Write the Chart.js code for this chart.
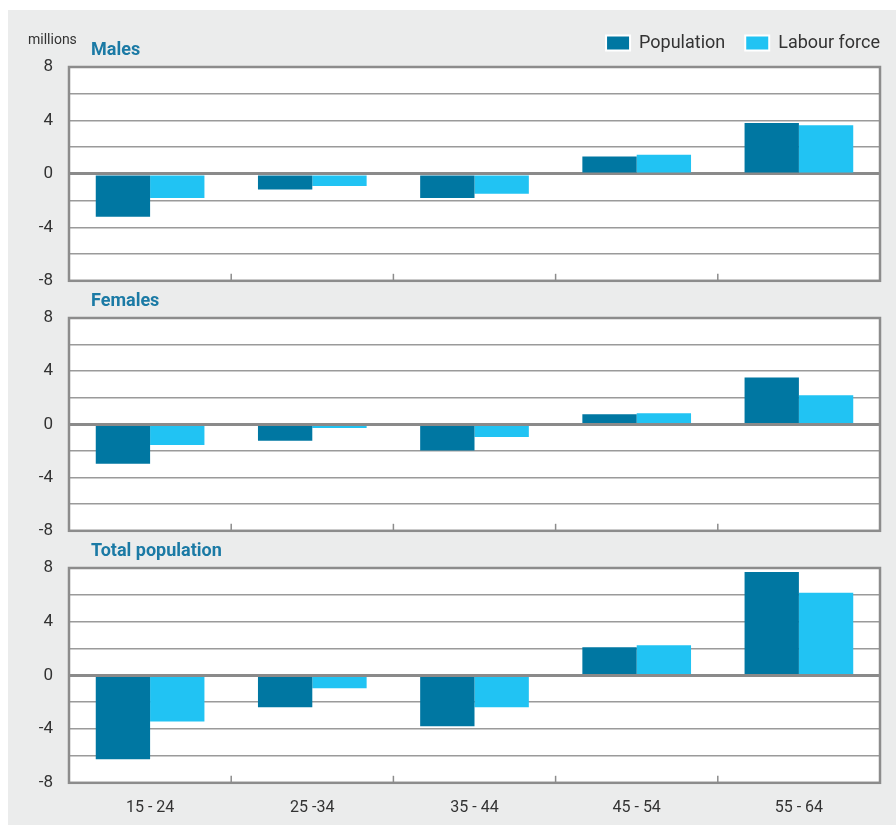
<!DOCTYPE html>
<html>
<head>
<meta charset="utf-8">
<title>Population and labour force change by age group</title>
<script src="https://cdn.jsdelivr.net/npm/chart.js@4.4.1/dist/chart.umd.min.js"></script>
<style>
    body { margin: 0; width: 896px; height: 825px; position: relative; overflow: hidden; background: #ffffff; }
    #bg { position: absolute; left: 8px; top: 10px; right: 0; bottom: 0; background: #ebecec; }
    .panel { position: absolute; left: 0; width: 896px; }
    .panel canvas { display: block; }
    #p1 { top: 0; height: 307px; }
    #p2 { top: 290px; height: 267px; }
    #p3 { top: 540px; height: 301px; }
</style>
</head>
<body>
<div id="bg"></div>
<div class="panel" id="p1"><canvas id="males-canvas"></canvas></div>
<div class="panel" id="p2"><canvas id="females-canvas"></canvas></div>
<div class="panel" id="p3"><canvas id="total-canvas"></canvas></div>
<script>
var ageGroups = ['15 - 24', '25 -34', '35 - 44', '45 - 54', '55 - 64'];

var malesPopulation = [-3.2, -1.17, -1.8, 1.3, 3.8];
var malesLabour = [-1.8, -0.9, -1.48, 1.44, 3.65];

var femalesPopulation = [-2.96, -1.22, -1.96, 0.77, 3.53];
var femalesLabour = [-1.55, -0.27, -0.94, 0.84, 2.19];

var totalPopulation = [-6.25, -2.37, -3.78, 2.1, 7.7];
var totalLabour = [-3.43, -0.95, -2.37, 2.25, 6.15];

var yMin = -8, yMax = 8, yStep = 2, yLabelStep = 4;

var popColor = '#0077a2';
var labourColor = '#21c3f3';
var fontFamily = "'Roboto', sans-serif";

// white plot area, grey frame, small category ticks, panel heading
var panelPlugin = {
    id: 'panelFrame',
    afterLayout: function(chart) {
        // legend sits a little higher and flush with the plot's right edge
        var lg = chart.legend;
        if (lg && chart.options.plugins.legend.display) {
            var pad = chart.options.plugins.legend.labels.padding;
            lg.left += pad; lg.right += pad;
            lg.top -= 5; lg.bottom -= 5;
        }
    },
    beforeDraw: function(chart) {
        var a = chart.chartArea, ctx = chart.ctx;
        ctx.save();
        ctx.fillStyle = '#ffffff';
        ctx.fillRect(a.left, a.top, a.right - a.left, a.bottom - a.top);
        ctx.restore();
    },
    afterDraw: function(chart, args, opts) {
        var a = chart.chartArea, ctx = chart.ctx, x = chart.scales.x;
        ctx.save();
        ctx.strokeStyle = '#8c8c8c';
        ctx.lineWidth = 2.5;
        ctx.strokeRect(a.left, a.top, a.right - a.left, a.bottom - a.top);
        ctx.lineWidth = 1.5;
        for (var i = 1; i < ageGroups.length; i++) {
            var bx = (x.getPixelForValue(i - 1) + x.getPixelForValue(i)) / 2;
            ctx.beginPath();
            ctx.moveTo(bx, a.bottom);
            ctx.lineTo(bx, a.bottom - 7);
            ctx.stroke();
        }
        ctx.fillStyle = '#1b7aa5';
        ctx.font = 'bold 18px ' + fontFamily;
        ctx.textBaseline = 'middle';
        ctx.textAlign = 'left';
        ctx.fillText(opts.title, a.left + 22, a.top - 17);
        if (opts.unit) {
            ctx.fillStyle = '#333333';
            ctx.font = '14px ' + fontFamily;
            ctx.fillText(opts.unit, 28, a.top - 27);
        }
        ctx.restore();
    }
};

function makePanel(canvasId, title, popData, labourData, showLegend, showLabels, padding) {
    var ctx = document.getElementById(canvasId).getContext('2d');
    return new Chart(ctx, {
        type: 'bar',
        data: {
            labels: ageGroups,
            datasets: [
                {
                    label: 'Population',
                    data: popData,
                    backgroundColor: popColor,
                    borderWidth: 0,
                    barPercentage: 1,
                    categoryPercentage: 0.67
                },
                {
                    label: 'Labour force',
                    data: labourData,
                    backgroundColor: labourColor,
                    borderWidth: 0,
                    barPercentage: 1,
                    categoryPercentage: 0.67
                }
            ]
        },
        options: {
            responsive: true,
            maintainAspectRatio: false,
            animation: false,
            layout: { padding: padding },
            plugins: {
                legend: {
                    display: showLegend,
                    position: 'top',
                    align: 'end',
                    labels: {
                        color: '#333333',
                        boxWidth: 24,
                        boxHeight: 15,
                        padding: 20,
                        font: { family: fontFamily, size: 18 },
                        generateLabels: function(chart) {
                            return Chart.defaults.plugins.legend.labels.generateLabels(chart).map(function(l) {
                                l.strokeStyle = '#ffffff';
                                l.lineWidth = 2;
                                return l;
                            });
                        }
                    }
                },
                tooltip: { enabled: false },
                panelFrame: { title: title, unit: showLegend ? 'millions' : '' }
            },
            scales: {
                x: {
                    display: showLabels,
                    grid: { display: false, drawTicks: false },
                    border: { display: false },
                    ticks: {
                        color: '#333333',
                        padding: 16,
                        font: { family: fontFamily, size: 16 }
                    }
                },
                y: {
                    min: yMin,
                    max: yMax,
                    afterFit: function(scale) { scale.width = 49; },
                    border: { display: false },
                    grid: {
                        drawTicks: false,
                        color: function(c) { return c.tick.value === 0 ? '#8a8a8a' : '#9a9a9a'; },
                        lineWidth: function(c) { return c.tick.value === 0 ? 3 : 1.6; }
                    },
                    ticks: {
                        stepSize: yStep,
                        padding: 16,
                        color: '#333333',
                        font: { family: fontFamily, size: 17 },
                        callback: function(value) {
                            return value % yLabelStep === 0 ? value : '';
                        }
                    }
                }
            }
        },
        plugins: [panelPlugin]
    });
}

makePanel('males-canvas', 'Males', malesPopulation, malesLabour, true, false,
    { left: 20, right: 16, top: 19, bottom: 10 });
makePanel('females-canvas', 'Females', femalesPopulation, femalesLabour, false, false,
    { left: 20, right: 16, top: 28, bottom: 10 });
makePanel('total-canvas', 'Total population', totalPopulation, totalLabour, false, true,
    { left: 20, right: 16, top: 28, bottom: 7 });
</script>
</body>
</html>
